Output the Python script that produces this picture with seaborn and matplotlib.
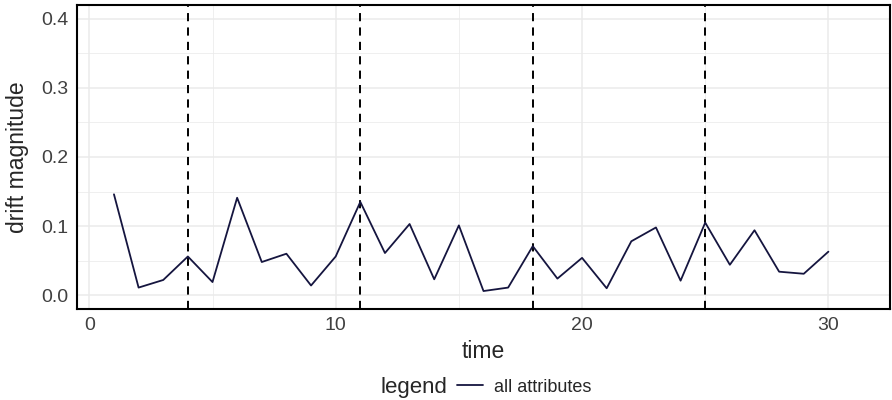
import matplotlib
matplotlib.use("Agg")
import matplotlib.pyplot as plt
from matplotlib.ticker import MultipleLocator
import pandas as pd
import seaborn as sns

# drift magnitude per time step
time = list(range(1, 31))
drift = [0.146, 0.011, 0.022, 0.056, 0.019, 0.141, 0.048, 0.060, 0.014, 0.056,
         0.135, 0.061, 0.103, 0.023, 0.101, 0.006, 0.011, 0.071, 0.024, 0.054,
         0.010, 0.078, 0.098, 0.021, 0.105, 0.044, 0.094, 0.034, 0.031, 0.063]
series_name = "all attributes"
# known drift points (dashed lines)
drift_points = [4, 11, 18, 25]

line_color = "#15153f"

df = pd.DataFrame({"time": time, "drift magnitude": drift,
                   "legend": [series_name] * len(time)})

sns.set_style("white")
plt.rcParams["font.family"] = ["Liberation Sans", "DejaVu Sans"]

fig = plt.figure(figsize=(8.92, 4), dpi=100)
ax = fig.add_axes([77 / 892, 91 / 400, 813 / 892, 304 / 400])

# grid like ggplot theme_bw
ax.set_axisbelow(True)
ax.xaxis.set_major_locator(MultipleLocator(10))
ax.xaxis.set_minor_locator(MultipleLocator(5))
ax.yaxis.set_major_locator(MultipleLocator(0.1))
ax.yaxis.set_minor_locator(MultipleLocator(0.05))
ax.grid(which="major", color="#ebebeb", lw=1.1)
ax.grid(which="minor", color="#ebebeb", lw=0.55)

for dp in drift_points:
    ax.axvline(dp, color="black", lw=1.4, ls=(0, (4.2, 3.2)), zorder=2)

sns.lineplot(data=df, x="time", y="drift magnitude", hue="legend",
             palette=[line_color], lw=1.3, ax=ax, legend=True, zorder=3)

ax.set_xlim(-0.5, 32.5)
ax.set_ylim(-0.02, 0.42)
ax.yaxis.set_major_formatter(matplotlib.ticker.FormatStrFormatter("%.1f"))

ax.tick_params(which="major", length=3.5, width=0.8, color="#333333",
               labelsize=14, labelcolor="#404040", pad=2.5)
ax.tick_params(which="minor", length=0)
for s in ax.spines.values():
    s.set_color("black")
    s.set_linewidth(1.5)

ax.set_xlabel("time", fontsize=16.5, labelpad=4)
ax.set_ylabel("drift magnitude", fontsize=16.5, labelpad=9)

handles, labels = ax.get_legend_handles_labels()
ax.get_legend().remove()
fig.text(380 / 892, 1 - 387 / 400, "legend", fontsize=16, va="center", ha="left")
fig.legend(handles, labels, loc="center left", bbox_to_anchor=(457 / 892, 1 - 387 / 400),
           frameon=False, fontsize=13, handlelength=1.45, handletextpad=0.6,
           borderpad=0, borderaxespad=0)

fig.savefig("out.png", dpi=100)
